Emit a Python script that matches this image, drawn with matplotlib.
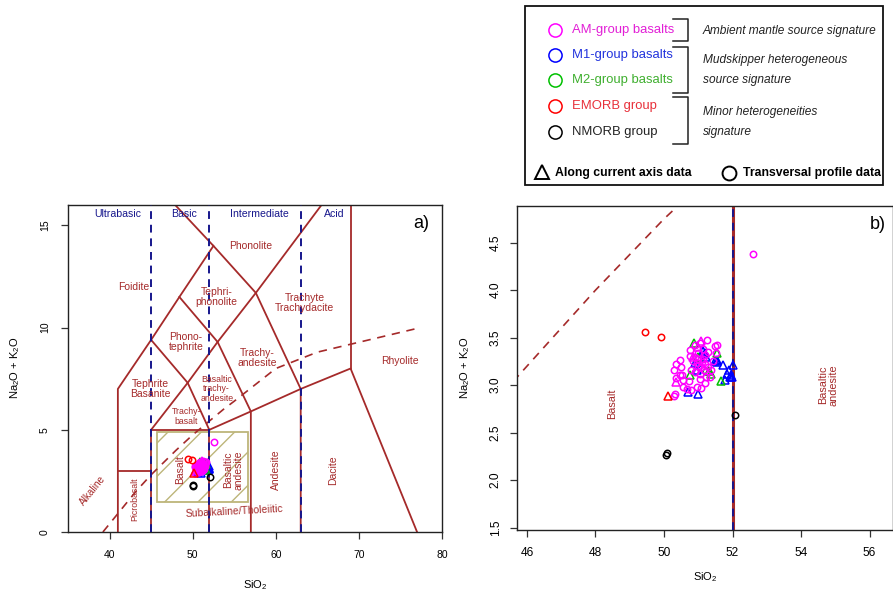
import numpy as np
import matplotlib
matplotlib.use("Agg")
import matplotlib.pyplot as plt
from matplotlib import font_manager as fm
from matplotlib.patches import Rectangle

# ---------------- data ----------------
# AM-group basalts (magenta)
am_circ_x = [50.32, 50.30, 50.28, 50.34, 50.48, 50.51, 50.36, 50.53, 50.56, 50.67, 50.73, 50.80,
             50.95, 50.75, 50.77, 50.90, 51.04, 51.27, 51.14, 51.29, 51.48, 51.56, 51.53, 51.29,
             51.24, 51.19, 51.04, 50.90, 50.95, 51.09, 50.99, 51.14, 50.85, 50.80, 51.16, 51.38,
             51.34, 51.09, 50.99, 51.19, 51.43, 50.46, 50.56, 51.00, 51.10, 51.05, 50.92, 51.20,
             52.60]
am_circ_y = [2.91, 2.89, 3.16, 3.22, 3.26, 3.19, 3.08, 3.11, 2.98, 2.96, 3.04, 2.95,
             2.98, 3.31, 3.37, 3.42, 3.44, 3.48, 3.38, 3.35, 3.41, 3.42, 3.34, 3.19,
             3.09, 3.02, 3.06, 3.14, 3.23, 3.19, 3.28, 3.28, 3.25, 3.16, 3.16, 3.16,
             3.09, 2.97, 3.34, 3.32, 3.25, 3.11, 3.05, 3.20, 3.24, 3.12, 3.30, 3.22,
             4.38]
am_tri_x = [50.36, 51.09, 50.85, 51.00]
am_tri_y = [3.03, 3.46, 3.30, 3.40]

# M1-group basalts (blue)
m1_tri_x = [51.48, 51.56, 51.73, 51.90, 51.97, 52.02, 51.99, 51.77, 50.70, 50.99, 50.90,
            51.19, 51.24, 51.14, 50.95, 51.55, 51.85, 51.92]
m1_tri_y = [3.25, 3.26, 3.21, 3.16, 3.11, 3.21, 3.09, 3.05, 2.93, 2.91, 3.23,
            3.34, 3.30, 3.36, 3.16, 3.24, 3.12, 3.09]
m1_circ_x = [50.95, 51.10]
m1_circ_y = [3.22, 3.32]

# M2-group basalts (green)
m2_tri_x = [50.88, 51.56, 51.66, 51.38, 50.75, 50.99, 51.30]
m2_tri_y = [3.44, 3.34, 3.04, 3.12, 3.11, 3.30, 3.15]
m2_circ_x = [51.24]
m2_circ_y = [3.15]

# EMORB group (red)
em_circ_x = [49.46, 49.92]
em_circ_y = [3.56, 3.51]
em_tri_x = [50.11]
em_tri_y = [2.89]

# NMORB group (black)
nm_circ_x = [50.05, 50.08, 52.08]
nm_circ_y = [2.27, 2.29, 2.69]

# TAS field boundaries (SiO2, Na2O+K2O)
tas_lines = [
    [(41, 0), (41, 7), (45, 9.4), (48.4, 11.5), (52.5, 14), (47.9, 16)],
    [(41, 3), (45, 3)],
    [(45, 0), (45, 5), (52, 5), (52, 0)],
    [(45, 5), (49.4, 7.3), (53, 9.3), (57.6, 11.7), (65.5, 16)],
    [(52, 5), (49.4, 7.3), (45, 9.4)],
    [(48.4, 11.5), (53, 9.3), (57, 5.9), (57, 0)],
    [(52.5, 14), (57.6, 11.7), (63, 7), (63, 0)],
    [(52, 5), (57, 5.9), (63, 7), (69, 8), (77, 0)],
    [(69, 8), (69, 16)],
]
# Irvine & Baragar alkaline/subalkaline divide
ib_x = [39.2, 40, 43.2, 45, 48, 50, 53.7, 55, 60, 65, 77.4]
ib_y = [0, 0.4, 2, 2.8, 4, 4.75, 6, 6.4, 8, 8.8, 10]
silica_divides = [45, 52, 63]
silica_classes = ["Ultrabasic", "Basic", "Intermediate", "Acid"]

fields_a = ["Phonolite", "Foidite", "Tephri-\nphonolite", "Trachyte\nTrachydacite",
            "Phono-\ntephrite", "Trachy-\nandesite", "Rhyolite", "Tephrite\nBasanite",
            "Basaltic\ntrachy-\nandesite", "Trachy-\nbasalt", "Alkaline", "Picrobasalt",
            "Basalt", "Basaltic\nandesite", "Andesite", "Dacite", "Subalkaline/Tholeiitic"]

xlim_a, ylim_a = (35, 80), (0, 16)
xlim_b, ylim_b = (45.71, 56.67), (1.476, 4.886)
xticks_a, yticks_a = [40, 50, 60, 70, 80], [0, 5, 10, 15]
xticks_b = [46, 48, 50, 52, 54, 56]
yticks_b = [1.5, 2.0, 2.5, 3.0, 3.5, 4.0, 4.5]

leg_labels = ["AM-group basalts", "M1-group basalts", "M2-group basalts", "EMORB group", "NMORB group"]
notes = ["Ambient mantle source signature", "Mudskipper heterogeneous",
         "source signature", "Minor heterogeneities", "signature"]

# ---------------- style ----------------
names = {f.name for f in fm.fontManager.ttflist}
BASE = "Liberation Sans" if "Liberation Sans" in names else "DejaVu Sans"
plt.rcParams["font.family"] = [BASE, "DejaVu Sans"]
plt.rcParams["mathtext.default"] = "regular"
plt.rcParams["hatch.linewidth"] = 1.0

BROWN = "#A52A2A"
NAVY = "#16168C"
KHAKI = "#BDB57A"
MAG, BLUE, GREEN, RED, BLACK = "#FF00FF", "#0000FF", "#00C000", "#FF0000", "#000000"

W, H = 893, 594
fig = plt.figure(figsize=(W / 100, H / 100), dpi=100)


def rect(l, t, r, b):
    return [l / W, 1 - b / H, (r - l) / W, (b - t) / H]


axA = fig.add_axes(rect(68, 205, 442, 532))
axB = fig.add_axes(rect(517, 206, 892.5, 530))

circ_kw = dict(linestyle="none", marker="o", mfc="none", ms=4.6, mew=1.1, zorder=5)
tri_kw = dict(linestyle="none", marker="^", mfc="none", ms=5.6, mew=1.1, zorder=5)


def plot_points(ax):
    ax.plot(m1_tri_x, m1_tri_y, mec=BLUE, **tri_kw)
    ax.plot(m1_circ_x, m1_circ_y, mec=BLUE, **circ_kw)
    ax.plot(m2_tri_x, m2_tri_y, mec=GREEN, **tri_kw)
    ax.plot(m2_circ_x, m2_circ_y, mec=GREEN, **circ_kw)
    ax.plot(am_circ_x, am_circ_y, mec=MAG, **circ_kw)
    ax.plot(am_tri_x, am_tri_y, mec=MAG, **tri_kw)
    ax.plot(em_circ_x, em_circ_y, mec=RED, **circ_kw)
    ax.plot(em_tri_x, em_tri_y, mec=RED, **tri_kw)
    ax.plot(nm_circ_x, nm_circ_y, mec=BLACK, **circ_kw)


def style_axes(ax, xl, yl, xt, yt, fs, xpad, ypad):
    ax.set_xlim(*xl)
    ax.set_ylim(*yl)
    ax.set_xticks(xt)
    ax.set_yticks(yt)
    if ax is axB:
        ax.set_yticklabels([f"{v:.1f}" for v in yt])
    ax.tick_params(axis="both", length=5, width=0.9, labelsize=fs, color="#333333")
    ax.tick_params(axis="x", pad=xpad)
    ax.tick_params(axis="y", pad=ypad)
    for lab in ax.get_yticklabels():
        lab.set_rotation(90)
        lab.set_va("center")
    for s in ax.spines.values():
        s.set_linewidth(1.0)
        s.set_color("#222222")


# ---------------- panel a ----------------
for line in tas_lines:
    xs, ys = zip(*line)
    axA.plot(xs, ys, color=BROWN, lw=1.3, zorder=2)
axA.plot(ib_x, ib_y, color=BROWN, lw=1.2, dashes=(5, 4), zorder=2)
for xv in silica_divides:
    axA.axvline(xv, color=NAVY, lw=1.4, dashes=(4, 3), zorder=3)
axA.add_patch(Rectangle((xlim_b[0], ylim_b[0]), xlim_b[1] - xlim_b[0], ylim_b[1] - ylim_b[0],
                        fill=False, hatch="/", edgecolor=KHAKI, lw=1.3, zorder=1))

for txt, xv in zip(silica_classes, [41.0, 49.0, 58.0, 67.0]):
    axA.text(xv, 15.55, txt, color=NAVY, fontsize=7.6, ha="center", va="center")

pos_a = [(56.95, 14.0, 0, 7.5), (42.9, 12.0, 0, 7.5), (52.9, 11.5, 0, 7.5), (63.5, 11.2, 0, 7.5),
         (49.2, 9.3, 0, 7.5), (57.75, 8.5, 0, 7.5), (74.9, 8.35, 0, 7.5), (44.9, 7.0, 0, 7.5),
         (52.9, 7.0, 0, 6.3), (49.2, 5.65, 0, 6.3), (38.0, 2.05, 51, 7.2), (43.0, 1.6, 90, 6.3),
         (48.5, 3.04, 90, 7.5), (54.85, 3.04, 90, 7.5), (60.0, 3.04, 90, 7.5), (66.9, 3.04, 90, 7.5),
         (55.06, 1.0, 3, 7.5)]
for txt, (xv, yv, rot, fs) in zip(fields_a, pos_a):
    axA.text(xv, yv, txt, color=BROWN, fontsize=fs, ha="center", va="center", rotation=rot,
             linespacing=1.05, zorder=4)
axA.text(77.55, 15.1, "a)", fontsize=13, ha="center", va="center")
plot_points(axA)
style_axes(axA, xlim_a, ylim_a, xticks_a, yticks_a, 7.5, 8, 8)

# ---------------- panel b ----------------
axB.plot(ib_x, ib_y, color=BROWN, lw=1.2, dashes=(5, 4), zorder=2)
axB.axvline(52, color=BROWN, lw=2.2, zorder=2)
axB.axvline(52, color=NAVY, lw=1.4, dashes=(4, 3), zorder=3)
axB.text(48.5, 2.81, "Basalt", color=BROWN, fontsize=7.8, rotation=90, ha="center", va="center")
axB.text(54.81, 3.0, "Basaltic\nandesite", color=BROWN, fontsize=7.8, rotation=90,
         ha="center", va="center", linespacing=1.05)
axB.text(56.24, 4.69, "b)", fontsize=13, ha="center", va="center")
plot_points(axB)
style_axes(axB, xlim_b, ylim_b, xticks_b, yticks_b, 8.6, 7, 6)

# axis titles
fig.text(255 / W, 1 - 585 / H, "SiO$_2$", fontsize=8, ha="center", va="center")
fig.text(705 / W, 1 - 577 / H, "SiO$_2$", fontsize=8, ha="center", va="center")
fig.text(15 / W, 1 - 368 / H, "Na$_2$O + K$_2$O", fontsize=8, ha="center", va="center", rotation=90)
fig.text(465 / W, 1 - 368 / H, "Na$_2$O + K$_2$O", fontsize=8, ha="center", va="center", rotation=90)

# ---------------- legend ----------------
ov = fig.add_axes([0, 0, 1, 1])
ov.set_xlim(0, W)
ov.set_ylim(H, 0)
ov.axis("off")
ov.add_patch(Rectangle((525, 6), 358, 179, fill=False, lw=1.3, edgecolor="#111111"))
leg_colors = [MAG, BLUE, GREEN, RED, BLACK]
leg_text_colors = ["#E21FD6", "#2233DD", "#3FAF2F", "#E8303A", "#222222"]
for i, (lab, c, tc) in enumerate(zip(leg_labels, leg_colors, leg_text_colors)):
    yy = [30, 55, 80, 106, 132][i]
    ov.plot([555], [yy], marker="o", ms=9.5, mfc="none", mec=c, mew=1.1)
    ov.text(572, yy, lab, color=tc, fontsize=9.4, va="center", ha="left")
for (y0, y1) in [(19, 41), (47, 93), (97, 144)]:
    ov.plot([673, 688, 688, 673], [y0, y0, y1, y1], color="#222222", lw=1.1)
for txt, yy in zip(notes, [31, 60, 80, 112, 132]):
    ov.text(703, yy, txt, fontsize=8.6, style="italic", va="center", ha="left", color="#222222")
ov.plot([542], [172], marker="^", ms=10, mfc="none", mec="black", mew=1.4)
ov.text(555, 173, "Along current axis data", fontsize=8.8, weight="bold", va="center", ha="left")
ov.plot([729], [173], marker="o", ms=10, mfc="none", mec="black", mew=1.4)
ov.text(743, 173, "Transversal profile data", fontsize=8.8, weight="bold", va="center", ha="left")

fig.savefig("out.png", dpi=100)
